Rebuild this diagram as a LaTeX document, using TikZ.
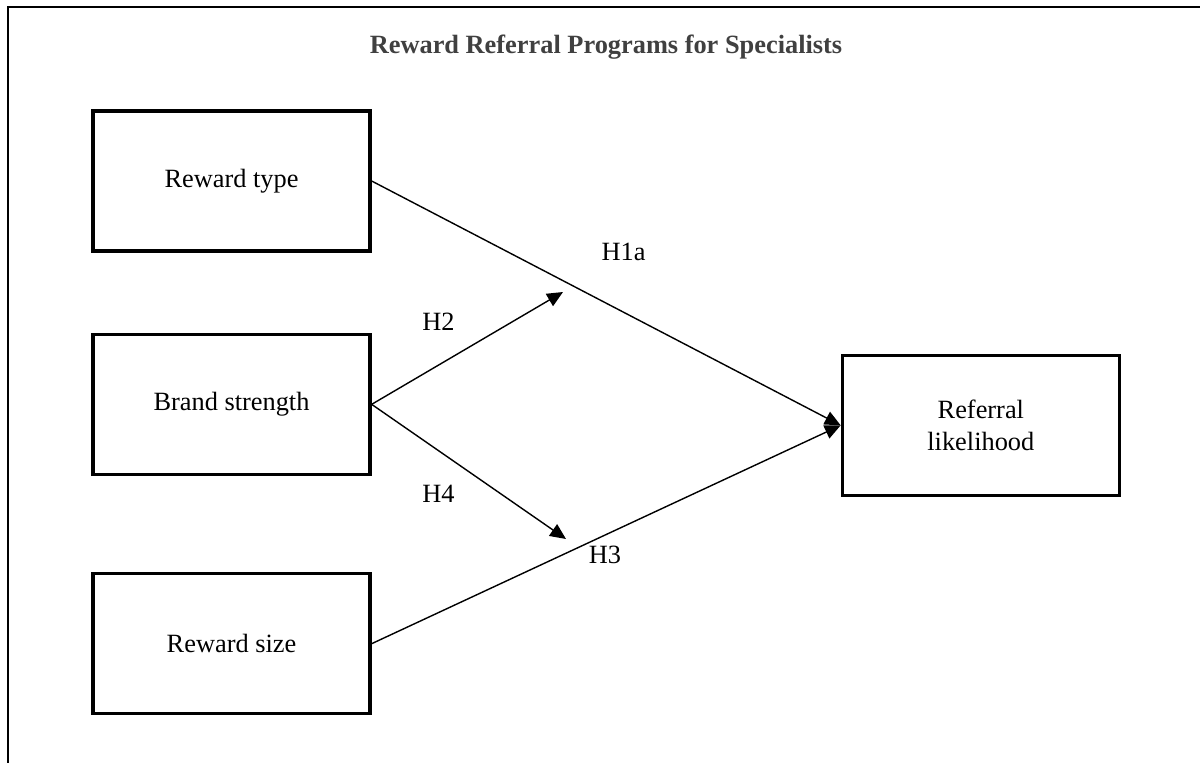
\documentclass[tikz,border=0pt]{standalone}
\usepackage{fontspec}
\setmainfont{Liberation Serif}
\usepackage{tikz}
\usetikzlibrary{arrows.meta,positioning}

\begin{document}
\begin{tikzpicture}[->, >={Triangle[length=9pt,width=8pt]}, line width=0.8pt,
    font=\fontsize{15}{18}\selectfont,
    factor/.style={draw, -, line width=1.9pt, minimum width=5.54cm, minimum height=2.8cm, inner sep=0pt, align=center},
    hyp/.style={draw=none, inner sep=0pt}]
            \useasboundingbox (0,0) rectangle (24,-15.24);
            % frame and title
            \draw[-, line width=0.85pt] (0.16,-15.5) -- (0.16,-0.14) -- (24.5,-0.14);
            \node[anchor=base, text=black!75, font=\fontsize{15}{18}\selectfont\bfseries] (title) at (12.12,-1.06) {Reward Referral Programs for Specialists};
            % factors
            \node[factor] (rtype) at (4.63,-3.62)            {Reward type};
            \node[factor] (brand) [below=1.6cm of rtype]     {Brand strength};
            \node[factor] (rsize) [below=1.92cm of brand]    {Reward size};
            \node[factor] (refer) [right=9.38cm of brand, yshift=-0.42cm] {Referral\\likelihood};
            \coordinate (m1) at (11.26,-5.84);
            \coordinate (m2) at (11.32,-10.78);
            % paths
            \draw (rtype.east) -- (refer.west);
            \draw (rsize.east) -- (refer.west);
            \draw (brand.east) -- (m1);
            \draw (brand.east) -- (m2);
            % hypotheses
            \node[hyp] (h1a) at (12.47,-5.04)  {H1a};
            \node[hyp] (h2)  at (8.77,-6.44)   {H2};
            \node[hyp] (h4)  at (8.77,-9.87)   {H4};
            \node[hyp] (h3)  at (12.1,-11.1)   {H3};
        \end{tikzpicture}
\end{document}
